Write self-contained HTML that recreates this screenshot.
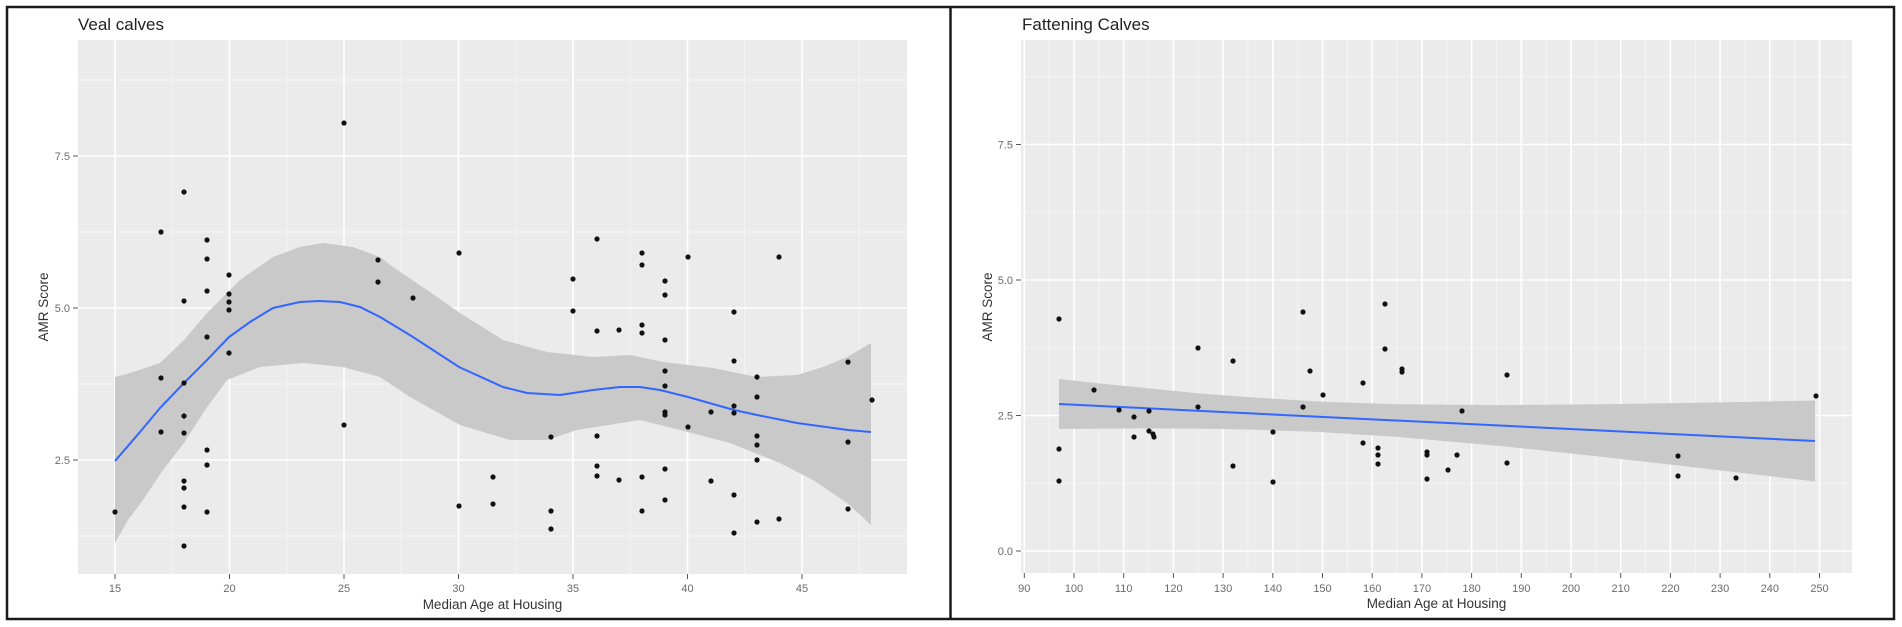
<!DOCTYPE html>
<html><head><meta charset="utf-8"><style>
html,body{margin:0;padding:0;background:#fff;}
svg{display:block;}
text{font-family:"Liberation Sans",Arial,sans-serif;}
</style></head><body>
<svg width="1902" height="627" viewBox="0 0 1902 627" xmlns="http://www.w3.org/2000/svg">
<rect x="0" y="0" width="1902" height="627" fill="#fff"/>
<defs>
<clipPath id="cl"><rect x="78" y="40" width="829" height="534"/></clipPath>
<clipPath id="cr"><rect x="1021" y="40" width="831" height="533"/></clipPath>
</defs>

<!-- LEFT PANEL -->
<rect x="78" y="40" width="829" height="534" fill="#ebebeb"/>
<g clip-path="url(#cl)">
<g stroke="#f7f7f7" stroke-width="0.8">
<line x1="172.25" y1="40" x2="172.25" y2="574"/><line x1="286.75" y1="40" x2="286.75" y2="574"/><line x1="401.25" y1="40" x2="401.25" y2="574"/><line x1="515.75" y1="40" x2="515.75" y2="574"/><line x1="630.25" y1="40" x2="630.25" y2="574"/><line x1="744.75" y1="40" x2="744.75" y2="574"/><line x1="859.25" y1="40" x2="859.25" y2="574"/>
<line x1="78" y1="80" x2="907" y2="80"/><line x1="78" y1="232" x2="907" y2="232"/><line x1="78" y1="384" x2="907" y2="384"/><line x1="78" y1="536" x2="907" y2="536"/>
</g>
<g stroke="#ffffff" stroke-width="1.6">
<line x1="115" y1="40" x2="115" y2="574"/><line x1="229.5" y1="40" x2="229.5" y2="574"/><line x1="344" y1="40" x2="344" y2="574"/><line x1="458.5" y1="40" x2="458.5" y2="574"/><line x1="573" y1="40" x2="573" y2="574"/><line x1="687.5" y1="40" x2="687.5" y2="574"/><line x1="802" y1="40" x2="802" y2="574"/>
<line x1="78" y1="156" x2="907" y2="156"/><line x1="78" y1="308" x2="907" y2="308"/><line x1="78" y1="460" x2="907" y2="460"/>
</g>
<path fill="#c9c9c9" d="M115,377 L127,374 L160,363 L184,340 L207,313 L240,280 L273,257 L300,247 L323,243 L353,247 L380,257 L393,267 L427,290 L460,313 L503,340 L547,352 L593,357 L630,355 L663,362 L713,368 L757,377 L797,375 L823,367 L847,357 L871,343 L871,525 L847,503 L813,480 L780,463 L730,443 L680,430 L640,420 L577,430 L547,440 L510,440 L460,425 L410,397 L380,377 L343,367 L303,363 L260,367 L227,380 L205,410 L184,443 L163,470 L143,500 L128,520 L115,543 Z"/>
<polyline fill="none" stroke="#3366ff" stroke-width="2" points="115,461 140,432 160,408 184,383 207,360 229,337 250,322 273,308 300,302 319,301 340,302 360,307 380,317 413,337 459,367 503,387 527,393 560,395 593,390 620,387 640,387 660,390 688,397 734,410 757,415 797,423 848,430 871,432"/>
<g fill="#111">
<circle cx="344" cy="123" r="2.6"/><circle cx="184" cy="192" r="2.6"/><circle cx="161" cy="232" r="2.6"/><circle cx="207" cy="240" r="2.6"/><circle cx="207" cy="259" r="2.6"/><circle cx="229" cy="275" r="2.6"/><circle cx="207" cy="291" r="2.6"/><circle cx="229" cy="294" r="2.6"/><circle cx="184" cy="301" r="2.6"/><circle cx="229" cy="302" r="2.6"/><circle cx="229" cy="310" r="2.6"/><circle cx="207" cy="337" r="2.6"/><circle cx="229" cy="353" r="2.6"/><circle cx="161" cy="378" r="2.6"/><circle cx="184" cy="383" r="2.6"/><circle cx="184" cy="416" r="2.6"/><circle cx="344" cy="425" r="2.6"/><circle cx="161" cy="432" r="2.6"/><circle cx="184" cy="433" r="2.6"/><circle cx="207" cy="450" r="2.6"/><circle cx="207" cy="465" r="2.6"/><circle cx="184" cy="481" r="2.6"/><circle cx="184" cy="488" r="2.6"/><circle cx="115" cy="512" r="2.6"/><circle cx="184" cy="507" r="2.6"/><circle cx="207" cy="512" r="2.6"/><circle cx="184" cy="546" r="2.6"/><circle cx="378" cy="260" r="2.6"/><circle cx="378" cy="282" r="2.6"/><circle cx="413" cy="298" r="2.6"/><circle cx="459" cy="253" r="2.6"/><circle cx="597" cy="239" r="2.6"/><circle cx="573" cy="279" r="2.6"/><circle cx="573" cy="311" r="2.6"/><circle cx="597" cy="331" r="2.6"/><circle cx="619" cy="330" r="2.6"/><circle cx="551" cy="437" r="2.6"/><circle cx="597" cy="436" r="2.6"/><circle cx="493" cy="477" r="2.6"/><circle cx="597" cy="466" r="2.6"/><circle cx="597" cy="476" r="2.6"/><circle cx="619" cy="480" r="2.6"/><circle cx="459" cy="506" r="2.6"/><circle cx="493" cy="504" r="2.6"/><circle cx="551" cy="511" r="2.6"/><circle cx="551" cy="529" r="2.6"/><circle cx="642" cy="253" r="2.6"/><circle cx="642" cy="265" r="2.6"/><circle cx="688" cy="257" r="2.6"/><circle cx="779" cy="257" r="2.6"/><circle cx="665" cy="281" r="2.6"/><circle cx="665" cy="295" r="2.6"/><circle cx="734" cy="312" r="2.6"/><circle cx="642" cy="325" r="2.6"/><circle cx="642" cy="333" r="2.6"/><circle cx="665" cy="340" r="2.6"/><circle cx="734" cy="361" r="2.6"/><circle cx="848" cy="362" r="2.6"/><circle cx="665" cy="371" r="2.6"/><circle cx="757" cy="377" r="2.6"/><circle cx="665" cy="386" r="2.6"/><circle cx="757" cy="397" r="2.6"/><circle cx="872" cy="400" r="2.6"/><circle cx="734" cy="406" r="2.6"/><circle cx="665" cy="412" r="2.6"/><circle cx="665" cy="415" r="2.6"/><circle cx="711" cy="412" r="2.6"/><circle cx="734" cy="413" r="2.6"/><circle cx="688" cy="427" r="2.6"/><circle cx="757" cy="436" r="2.6"/><circle cx="757" cy="445" r="2.6"/><circle cx="848" cy="442" r="2.6"/><circle cx="757" cy="460" r="2.6"/><circle cx="665" cy="469" r="2.6"/><circle cx="642" cy="477" r="2.6"/><circle cx="711" cy="481" r="2.6"/><circle cx="734" cy="495" r="2.6"/><circle cx="665" cy="500" r="2.6"/><circle cx="642" cy="511" r="2.6"/><circle cx="848" cy="509" r="2.6"/><circle cx="757" cy="522" r="2.6"/><circle cx="779" cy="519" r="2.6"/><circle cx="734" cy="533" r="2.6"/>
</g>
</g>
<!-- left axes -->
<g stroke="#555" stroke-width="1">
<line x1="73" y1="156" x2="78" y2="156"/><line x1="73" y1="308" x2="78" y2="308"/><line x1="73" y1="460" x2="78" y2="460"/>
<line x1="115" y1="574" x2="115" y2="579"/><line x1="229.5" y1="574" x2="229.5" y2="579"/><line x1="344" y1="574" x2="344" y2="579"/><line x1="458.5" y1="574" x2="458.5" y2="579"/><line x1="573" y1="574" x2="573" y2="579"/><line x1="687.5" y1="574" x2="687.5" y2="579"/><line x1="802" y1="574" x2="802" y2="579"/>
</g>
<g fill="#6a6a6a" font-size="11" text-anchor="end">
<text x="70" y="160">7.5</text><text x="70" y="312">5.0</text><text x="70" y="464">2.5</text>
</g>
<g fill="#6a6a6a" font-size="11" text-anchor="middle">
<text x="115" y="592">15</text><text x="229.5" y="592">20</text><text x="344" y="592">25</text><text x="458.5" y="592">30</text><text x="573" y="592">35</text><text x="687.5" y="592">40</text><text x="802" y="592">45</text>
</g>
<text x="492.5" y="609" font-size="13.5" fill="#333" text-anchor="middle">Median Age at Housing</text>
<text transform="translate(48,307) rotate(-90)" font-size="13.5" fill="#333" text-anchor="middle">AMR Score</text>
<text x="78" y="30" font-size="17" fill="#222">Veal calves</text>

<!-- RIGHT PANEL -->
<rect x="1021" y="40" width="831" height="533" fill="#ebebeb"/>
<g clip-path="url(#cr)">
<g stroke="#f7f7f7" stroke-width="0.8">
<line x1="1049.15" y1="40" x2="1049.15" y2="573"/><line x1="1098.85" y1="40" x2="1098.85" y2="573"/><line x1="1148.55" y1="40" x2="1148.55" y2="573"/><line x1="1198.25" y1="40" x2="1198.25" y2="573"/><line x1="1247.95" y1="40" x2="1247.95" y2="573"/><line x1="1297.65" y1="40" x2="1297.65" y2="573"/><line x1="1347.35" y1="40" x2="1347.35" y2="573"/><line x1="1397.05" y1="40" x2="1397.05" y2="573"/><line x1="1446.75" y1="40" x2="1446.75" y2="573"/><line x1="1496.45" y1="40" x2="1496.45" y2="573"/><line x1="1546.15" y1="40" x2="1546.15" y2="573"/><line x1="1595.85" y1="40" x2="1595.85" y2="573"/><line x1="1645.55" y1="40" x2="1645.55" y2="573"/><line x1="1695.25" y1="40" x2="1695.25" y2="573"/><line x1="1744.95" y1="40" x2="1744.95" y2="573"/><line x1="1794.65" y1="40" x2="1794.65" y2="573"/><line x1="1844.35" y1="40" x2="1844.35" y2="573"/>
<line x1="1021" y1="76.75" x2="1852" y2="76.75"/><line x1="1021" y1="212.25" x2="1852" y2="212.25"/><line x1="1021" y1="347.75" x2="1852" y2="347.75"/><line x1="1021" y1="483.25" x2="1852" y2="483.25"/>
</g>
<g stroke="#ffffff" stroke-width="1.6">
<line x1="1024.3" y1="40" x2="1024.3" y2="573"/><line x1="1074" y1="40" x2="1074" y2="573"/><line x1="1123.7" y1="40" x2="1123.7" y2="573"/><line x1="1173.4" y1="40" x2="1173.4" y2="573"/><line x1="1223.1" y1="40" x2="1223.1" y2="573"/><line x1="1272.8" y1="40" x2="1272.8" y2="573"/><line x1="1322.5" y1="40" x2="1322.5" y2="573"/><line x1="1372.2" y1="40" x2="1372.2" y2="573"/><line x1="1421.9" y1="40" x2="1421.9" y2="573"/><line x1="1471.6" y1="40" x2="1471.6" y2="573"/><line x1="1521.3" y1="40" x2="1521.3" y2="573"/><line x1="1571" y1="40" x2="1571" y2="573"/><line x1="1620.7" y1="40" x2="1620.7" y2="573"/><line x1="1670.4" y1="40" x2="1670.4" y2="573"/><line x1="1720.1" y1="40" x2="1720.1" y2="573"/><line x1="1769.8" y1="40" x2="1769.8" y2="573"/><line x1="1819.5" y1="40" x2="1819.5" y2="573"/>
<line x1="1021" y1="144.5" x2="1852" y2="144.5"/><line x1="1021" y1="280" x2="1852" y2="280"/><line x1="1021" y1="415.5" x2="1852" y2="415.5"/><line x1="1021" y1="551" x2="1852" y2="551"/>
</g>
<path fill="#c9c9c9" d="M1059,379 L1100,383.5 L1150,388.5 L1200,393.5 L1250,397.2 L1320,401.6 L1400,404.3 L1500,405.1 L1600,404.3 L1700,402.8 L1815,400.5 L1815,481.5 L1700,468 L1600,456.6 L1500,446 L1400,437.1 L1320,432 L1250,429.5 L1200,428.6 L1150,428.4 L1100,428.6 L1059,429 Z"/>
<line x1="1059" y1="404" x2="1815" y2="441" stroke="#3366ff" stroke-width="2"/>
<g fill="#111">
<circle cx="1059" cy="319" r="2.6"/><circle cx="1059" cy="449" r="2.6"/><circle cx="1059" cy="481" r="2.6"/><circle cx="1094" cy="390" r="2.6"/><circle cx="1119" cy="410" r="2.6"/><circle cx="1134" cy="417" r="2.6"/><circle cx="1134" cy="437" r="2.6"/><circle cx="1149" cy="411" r="2.6"/><circle cx="1149" cy="431" r="2.6"/><circle cx="1153" cy="434" r="2.6"/><circle cx="1154" cy="437" r="2.6"/><circle cx="1198" cy="348" r="2.6"/><circle cx="1198" cy="407" r="2.6"/><circle cx="1233" cy="361" r="2.6"/><circle cx="1233" cy="466" r="2.6"/><circle cx="1273" cy="432" r="2.6"/><circle cx="1273" cy="482" r="2.6"/><circle cx="1303" cy="312" r="2.6"/><circle cx="1303" cy="407" r="2.6"/><circle cx="1310" cy="371" r="2.6"/><circle cx="1323" cy="395" r="2.6"/><circle cx="1363" cy="383" r="2.6"/><circle cx="1363" cy="443" r="2.6"/><circle cx="1378" cy="448" r="2.6"/><circle cx="1378" cy="455" r="2.6"/><circle cx="1378" cy="464" r="2.6"/><circle cx="1385" cy="304" r="2.6"/><circle cx="1385" cy="349" r="2.6"/><circle cx="1402" cy="369" r="2.6"/><circle cx="1402" cy="372" r="2.6"/><circle cx="1507" cy="375" r="2.6"/><circle cx="1462" cy="411" r="2.6"/><circle cx="1427" cy="452" r="2.6"/><circle cx="1427" cy="455" r="2.6"/><circle cx="1457" cy="455" r="2.6"/><circle cx="1448" cy="470" r="2.6"/><circle cx="1427" cy="479" r="2.6"/><circle cx="1507" cy="463" r="2.6"/><circle cx="1678" cy="456" r="2.6"/><circle cx="1678" cy="476" r="2.6"/><circle cx="1736" cy="478" r="2.6"/><circle cx="1816" cy="396" r="2.6"/>
</g>
</g>
<!-- right axes -->
<g stroke="#555" stroke-width="1">
<line x1="1016" y1="144.5" x2="1021" y2="144.5"/><line x1="1016" y1="280" x2="1021" y2="280"/><line x1="1016" y1="415.5" x2="1021" y2="415.5"/><line x1="1016" y1="551" x2="1021" y2="551"/>
<line x1="1024.3" y1="573" x2="1024.3" y2="578"/><line x1="1074" y1="573" x2="1074" y2="578"/><line x1="1123.7" y1="573" x2="1123.7" y2="578"/><line x1="1173.4" y1="573" x2="1173.4" y2="578"/><line x1="1223.1" y1="573" x2="1223.1" y2="578"/><line x1="1272.8" y1="573" x2="1272.8" y2="578"/><line x1="1322.5" y1="573" x2="1322.5" y2="578"/><line x1="1372.2" y1="573" x2="1372.2" y2="578"/><line x1="1421.9" y1="573" x2="1421.9" y2="578"/><line x1="1471.6" y1="573" x2="1471.6" y2="578"/><line x1="1521.3" y1="573" x2="1521.3" y2="578"/><line x1="1571" y1="573" x2="1571" y2="578"/><line x1="1620.7" y1="573" x2="1620.7" y2="578"/><line x1="1670.4" y1="573" x2="1670.4" y2="578"/><line x1="1720.1" y1="573" x2="1720.1" y2="578"/><line x1="1769.8" y1="573" x2="1769.8" y2="578"/><line x1="1819.5" y1="573" x2="1819.5" y2="578"/>
</g>
<g fill="#6a6a6a" font-size="11" text-anchor="end">
<text x="1013" y="148.5">7.5</text><text x="1013" y="284">5.0</text><text x="1013" y="419.5">2.5</text><text x="1013" y="555">0.0</text>
</g>
<g fill="#6a6a6a" font-size="11" text-anchor="middle">
<text x="1024.3" y="592">90</text><text x="1074" y="592">100</text><text x="1123.7" y="592">110</text><text x="1173.4" y="592">120</text><text x="1223.1" y="592">130</text><text x="1272.8" y="592">140</text><text x="1322.5" y="592">150</text><text x="1372.2" y="592">160</text><text x="1421.9" y="592">170</text><text x="1471.6" y="592">180</text><text x="1521.3" y="592">190</text><text x="1571" y="592">200</text><text x="1620.7" y="592">210</text><text x="1670.4" y="592">220</text><text x="1720.1" y="592">230</text><text x="1769.8" y="592">240</text><text x="1819.5" y="592">250</text>
</g>
<text x="1436.5" y="608" font-size="13.5" fill="#333" text-anchor="middle">Median Age at Housing</text>
<text transform="translate(992,307) rotate(-90)" font-size="13.5" fill="#333" text-anchor="middle">AMR Score</text>
<text x="1022" y="30" font-size="17" fill="#222">Fattening Calves</text>

<!-- frames -->
<rect x="7" y="7" width="1887" height="612" fill="none" stroke="#1a1a1a" stroke-width="2.5"/>
<line x1="950.5" y1="7" x2="950.5" y2="619" stroke="#1a1a1a" stroke-width="2.5"/>
</svg>
</body></html>
